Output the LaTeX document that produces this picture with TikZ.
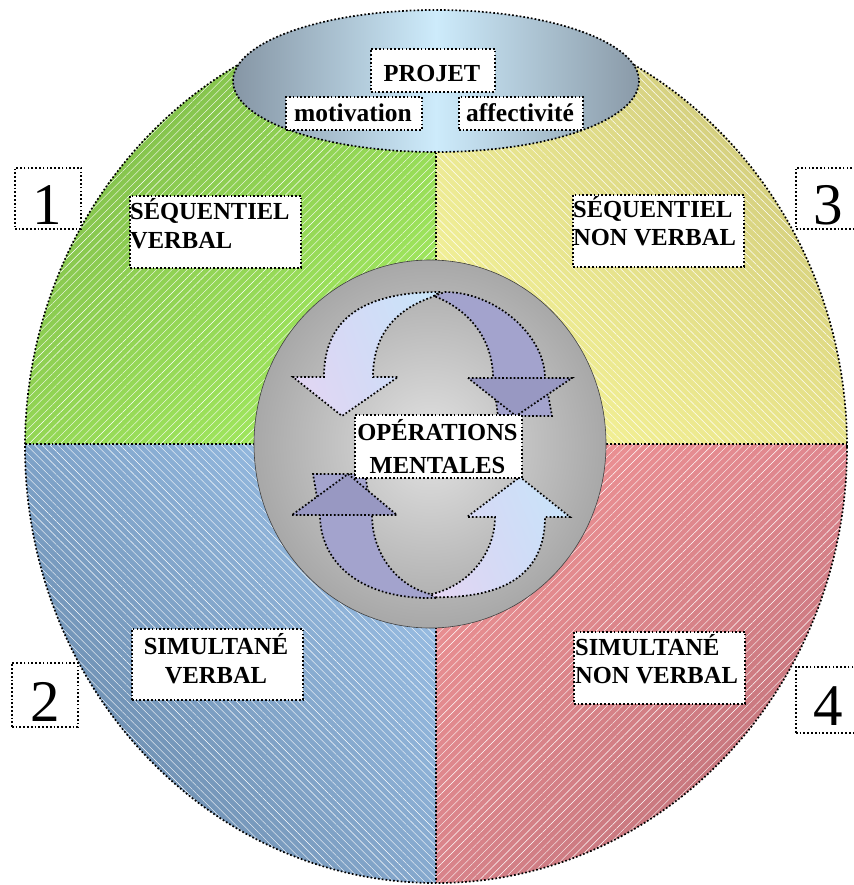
\documentclass[tikz,border=0pt]{standalone}
\usepackage{fontspec}
\setmainfont{Liberation Serif}
\usetikzlibrary{patterns.meta,shadings}
\definecolor{gUL}{HTML}{76AE45}\definecolor{gUR}{HTML}{8FD252}\definecolor{gLL}{HTML}{93D655}\definecolor{gLR}{HTML}{A9F264}
\definecolor{yUL}{HTML}{E6E390}\definecolor{yUR}{HTML}{BFB86F}\definecolor{yLL}{HTML}{F8F79B}\definecolor{yLR}{HTML}{E8E38A}
\definecolor{bUL}{HTML}{7EA2C8}\definecolor{bUR}{HTML}{A3C8EE}\definecolor{bLL}{HTML}{5C7B9A}\definecolor{bLR}{HTML}{86A9CE}
\definecolor{rUL}{HTML}{F39696}\definecolor{rUR}{HTML}{DE868E}\definecolor{rLL}{HTML}{D8838A}\definecolor{rLR}{HTML}{B0676F}
\definecolor{eL}{HTML}{8696A5}\definecolor{eM}{HTML}{CDEBFB}\definecolor{eR}{HTML}{8A9AA8}
\definecolor{grIn}{HTML}{E2E2E2}\definecolor{grOut}{HTML}{A8A8A8}
\definecolor{daBand}{HTML}{A3A3CD}\definecolor{daHead}{HTML}{9898C2}
\definecolor{laUL}{HTML}{D8D4F4}\definecolor{laUR}{HTML}{C8E6FA}\definecolor{laLL}{HTML}{E6D6F2}\definecolor{laLR}{HTML}{C8DCF8}
\begin{document}
\begin{tikzpicture}[x=1pt,y=-1pt,
  dotline/.style={draw=black,line width=1.7pt,dash pattern=on 1.7pt off 2.1pt},
  boxst/.style={dotline,fill=white,inner sep=0pt,anchor=north west},
  lbl/.style={font=\fontsize{24.5}{28}\selectfont\bfseries,inner sep=0pt},
  lbls/.style={font=\fontsize{25.5}{28}\selectfont\bfseries,inner sep=0pt},
  numst/.style={font=\fontsize{59}{59}\selectfont,inner sep=0pt,anchor=base},
  hatchA/.style={pattern={Lines[angle=45,distance=5.5pt,line width=0.4pt]},pattern color=white,fill opacity=0.14},
  hatchB/.style={pattern={Lines[angle=-45,distance=5.5pt,line width=0.4pt]},pattern color=white,fill opacity=0.14},
  lightarrow/.style={upper left=laUL,upper right=laUR,lower left=laLL,lower right=laLR},
  darkband/.style={dotline,fill=daBand},
  darkhead/.style={dotline,fill=daHead}]
\useasboundingbox (0,0) rectangle (853,885);
% quadrants
\begin{scope}
  \clip (436,447) ellipse [x radius=411, y radius=436];
  \shade[upper left=gUL,upper right=gUR,lower left=gLL,lower right=gLR] (20,0) rectangle (436,444);
  \shade[upper left=yUL,upper right=yUR,lower left=yLL,lower right=yLR] (436,0) rectangle (853,444);
  \shade[upper left=bUL,upper right=bUR,lower left=bLL,lower right=bLR] (20,444) rectangle (436,890);
  \shade[upper left=rUL,upper right=rUR,lower left=rLL,lower right=rLR] (436,444) rectangle (853,890);
  \fill[hatchA] (20,0) rectangle (436,444);
  \fill[hatchB] (436,0) rectangle (853,444);
  \fill[hatchB] (20,444) rectangle (436,890);
  \fill[hatchA] (436,444) rectangle (853,890);
\end{scope}
\draw[dotline] (25,444) -- (847,444);
\draw[dotline] (436,12) -- (436,883);
\draw[dotline] (436,447) ellipse [x radius=411, y radius=436];
% top ellipse
\shade[left color=eL,right color=eR,middle color=eM] (436,81) ellipse [x radius=203, y radius=71];
\draw[dotline] (436,81) ellipse [x radius=203, y radius=71];
% central circle
\shade[inner color=grIn,outer color=grOut] (430,444) ellipse [x radius=176, y radius=184];
\draw[line width=0.6pt,black!75] (430,444) ellipse [x radius=176, y radius=184];
% arrows
\shade[lightarrow] (440,292) .. controls (355,292) and (324,325) .. (324,377) -- (293,377) -- (342,416) -- (398,377) -- (373,377) .. controls (373,335) and (395,310) .. (432,297) -- cycle;
\draw[dotline] (440,292) .. controls (355,292) and (324,325) .. (324,377) -- (293,377) -- (342,416) -- (398,377) -- (373,377) .. controls (373,335) and (395,310) .. (432,297) -- cycle;
\shade[lightarrow] (428,597) .. controls (510,600) and (545,570) .. (545,517) -- (570,517) -- (520,477) -- (467,517) -- (495,517) .. controls (495,552) and (470,585) .. (432,594) -- cycle;
\draw[dotline] (428,597) .. controls (510,600) and (545,570) .. (545,517) -- (570,517) -- (520,477) -- (467,517) -- (495,517) .. controls (495,552) and (470,585) .. (432,594) -- cycle;
\path[darkband] (434,296) -- (445,292) .. controls (495,292) and (545,335) .. (545,378) -- (552,416) -- (498,416) -- (493,378) .. controls (493,340) and (470,310) .. (434,296) -- cycle;
\path[darkhead] (468,378) -- (572,378) -- (516,416) -- cycle;
\path[darkband] (436,598) .. controls (360,600) and (320,562) .. (320,515) -- (313,474) -- (365,474) -- (372,515) .. controls (372,552) and (395,585) .. (430,594) -- cycle;
\path[darkhead] (292,515) -- (397,515) -- (348,474) -- cycle;
% boxes
\node[boxst,minimum width=124,minimum height=43] (projbox) at (370,48) {};
\node[boxst,minimum width=136,minimum height=33] (motivbox) at (285,96) {};
\node[boxst,minimum width=124,minimum height=33] (affectbox) at (458,96) {};
\node[boxst,minimum width=171,minimum height=72] (svbox) at (129,195) {};
\node[boxst,minimum width=171,minimum height=72] (snvbox) at (572,194) {};
\node[boxst,minimum width=171,minimum height=71] (simvbox) at (131,628) {};
\node[boxst,minimum width=171,minimum height=72] (simnvbox) at (573,631) {};
\node[boxst,minimum width=167,minimum height=63] (opbox) at (354,414) {};
\node[boxst,minimum width=66,minimum height=61] (n1box) at (14,167) {};
\node[boxst,minimum width=66,minimum height=64] (n2box) at (11,662) {};
\node[boxst,minimum width=66,minimum height=61] (n3box) at (795,167) {};
\node[boxst,minimum width=66,minimum height=66] (n4box) at (795,666) {};
% texts
\node[lbl,anchor=base] (projtxt) at (432,82) {PROJET};
\node[lbls,anchor=base] (motivtxt) at (353,122) {motivation};
\node[lbls,anchor=base] (affecttxt) at (520,122) {affectivité};
\node[lbl,anchor=base west] (sv1) at (130,220) {SÉQUENTIEL};
\node[lbl,anchor=base west] (sv2) at (130,248) {VERBAL};
\node[lbl,anchor=base west] (snv1) at (573,218) {SÉQUENTIEL};
\node[lbl,anchor=base west] (snv2) at (573,245) {NON VERBAL};
\node[lbl,anchor=base] (simv1) at (216,654) {SIMULTANÉ};
\node[lbl,anchor=base] (simv2) at (216,683) {VERBAL};
\node[lbl,anchor=base west] (simnv1) at (575,655) {SIMULTANÉ};
\node[lbl,anchor=base west] (simnv2) at (575,683) {NON VERBAL};
\node[lbl,anchor=base] (op1) at (437.5,440) {OPÉRATIONS};
\node[lbl,anchor=base] (op2) at (437.5,473) {MENTALES};
\node[numst] (num1) at (47,225) {1};
\node[numst] (num2) at (45,721) {2};
\node[numst] (num3) at (828,225) {3};
\node[numst] (num4) at (828,725) {4};
\end{tikzpicture}
\end{document}
